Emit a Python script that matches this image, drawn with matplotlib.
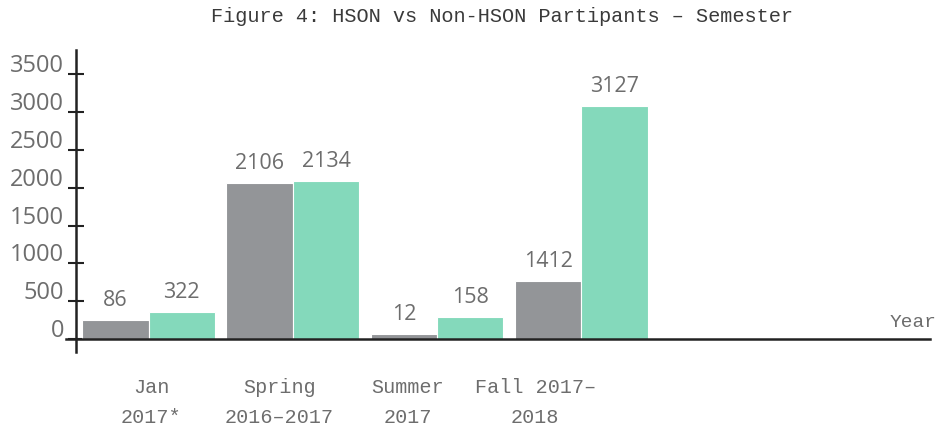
import matplotlib
matplotlib.use("Agg")
import matplotlib.pyplot as plt
import matplotlib.transforms as mtransforms
import numpy as np

# ---- data ----
categories = ["Jan\n2017*", "Spring\n2016–2017", "Summer\n2017", "Fall 2017–\n2018"]
non_hson_heights = [250, 2056, 66, 772]      # bar heights as drawn
hson_heights = [355, 2090, 298, 3075]
non_hson_labels = ["86", "2106", "12", "1412"]  # printed data labels
hson_labels = ["322", "2134", "158", "3127"]
yticks = [0, 500, 1000, 1500, 2000, 2500, 3000, 3500]
title = "Figure 4: HSON vs Non-HSON Partipants – Semester"

GRAY = "#939598"
GREEN = "#84d9bb"
TXT = "#6d6d6d"
MONO = "Liberation Mono"
SANS = ["Open Sans", "DejaVu Sans"]

fig = plt.figure(figsize=(9.4, 4.28), dpi=100)
W, H = 940, 428
ax = fig.add_axes([66 / W, (H - 352) / H, 864 / W, 302 / H])

x = np.arange(len(categories))
bw = 0.46
ax.bar(x - bw / 2, non_hson_heights, bw, color=GRAY, edgecolor="white", linewidth=0.8, zorder=2)
ax.bar(x + bw / 2, hson_heights, bw, color=GREEN, edgecolor="white", linewidth=0.8, zorder=2)

for xi, h, lab in zip(x - bw / 2, non_hson_heights, non_hson_labels):
    ax.annotate(lab, (xi, h), xytext=(0, 14), textcoords="offset points",
                ha="center", va="center", fontsize=15.5, color=TXT, family=SANS)
for xi, h, lab in zip(x + bw / 2, hson_heights, hson_labels):
    ax.annotate(lab, (xi, h), xytext=(0, 14), textcoords="offset points",
                ha="center", va="center", fontsize=15.5, color=TXT, family=SANS)

ax.set_xlim(-0.572, 5.416)
ax.set_ylim(-167, 3813)

# axes lines
for s in ["top", "right", "bottom"]:
    ax.spines[s].set_visible(False)
ax.spines["left"].set_position(("axes", 10 / 864))
ax.spines["left"].set_color("#222222")
ax.spines["left"].set_linewidth(1.8)
ax.axhline(0, color="#222222", linewidth=1.8, zorder=3, clip_on=False)

# y ticks
ax.set_yticks(yticks)
ax.set_yticklabels([str(v) for v in yticks])
ax.tick_params(axis="y", direction="inout", length=11, width=1.5, color="#222222",
               labelsize=17, labelcolor=TXT, pad=3)
offset = mtransforms.ScaledTranslation(0, 11 / 100, fig.dpi_scale_trans)
for lbl in ax.get_yticklabels():
    lbl.set_transform(lbl.get_transform() + offset)
    lbl.set_family(SANS)

# x ticks (category labels)
ax.set_xticks(np.arange(len(categories)) * 0.887 + 0.02)
ax.set_xticklabels(categories, family=MONO, fontsize=14.5, color=TXT, linespacing=1.7)
ax.tick_params(axis="x", length=0, pad=19)

trans = mtransforms.blended_transform_factory(ax.transAxes, ax.transData)
ax.annotate("Year", (1.0, 0), xycoords=trans, xytext=(5, 12), textcoords="offset points",
            ha="right", va="center", fontsize=14, family=MONO, color=TXT,
            annotation_clip=False)

fig.text(502 / W, 1 - 17 / H, title, ha="center", va="center", fontsize=14.6,
         family=MONO, color="#3a3a3a")

fig.savefig("out.png", dpi=100)
